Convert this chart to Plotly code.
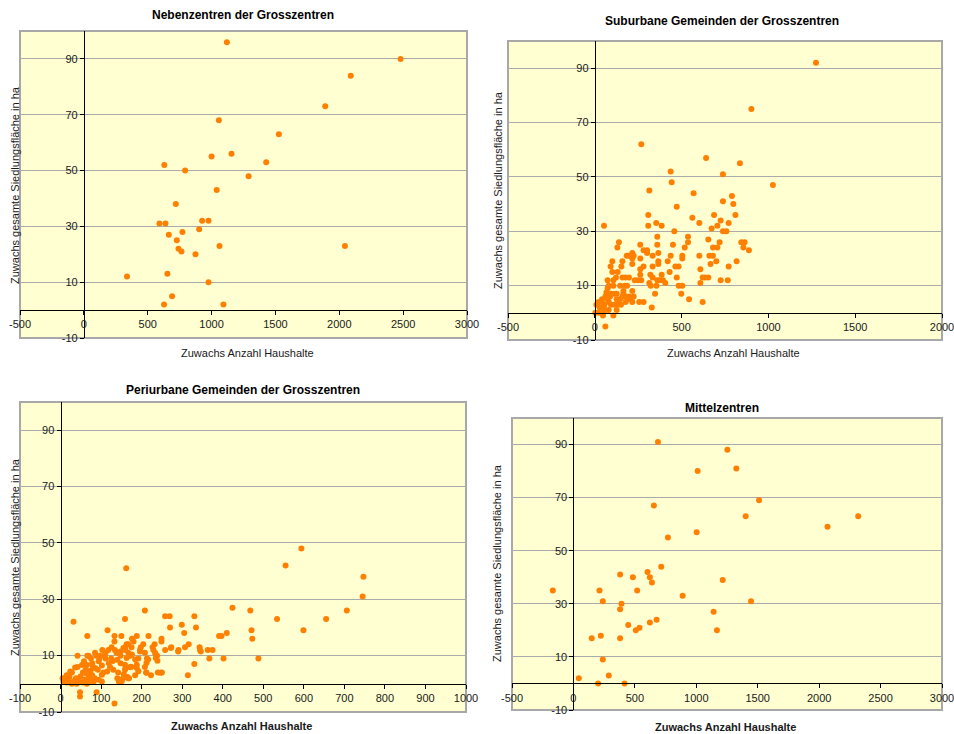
import plotly.graph_objects as go

# ---------------------------------------------------------------------------
# Zuwachs Anzahl Haushalte (x) und Zuwachs gesamte Siedlungsfläche in ha (y)
# ---------------------------------------------------------------------------

# Nebenzentren der Grosszentren
neben_hh = [1120, 2480, 2090, 1890, 1057, 1527, 1156, 1000, 1428, 630, 793, 1290,
            1040, 720, 926, 976, 592, 639, 903, 772, 665, 728, 1062, 2044, 741,
            764, 874, 338, 654, 976, 691, 628, 1093]
neben_ha = [96, 90, 84, 73, 68, 63, 56, 55, 53, 52, 50, 48,
            43, 38, 32, 32, 31, 31, 29, 28, 27, 25, 23, 23, 22,
            21, 20, 12, 13, 10, 5, 2, 2]

# Suburbane Gemeinden der Grosszentren
sub_hh = [1274, 902, 268, 641, 836, 437, 738, 1026, 443, 314, 569, 790, 738, 798,
          472, 308, 687, 810, 562, 725, 354, 602, 771, 53, 308, 385, 706, 673,
          458, 738, 758, 360, 537, 654, 139, 537, 719, 844, 863, 262, 360, 450,
          130, 518, 681, 706, 856, 888, 281, 301, 216, 301, 366, 184, 197, 224,
          333, 437, 504, 602, 660, 680, 262, 504, 216, 700, 817, 366, 420, 101,
          159, 216, 366, 667, 153, 281, 333, 464, 483, 771, 91, 262, 608, 101,
          132, 431, 262, 385, 320, 333, 472, 621, 635, 654, 122, 159, 178, 197,
          74, 107, 230, 249, 268, 360, 374, 393, 725, 766, 406, 608, 314, 80,
          107, 146, 173, 186, 322, 355, 483, 504, 74, 165, 216, 347, 498, 67,
          93, 113, 126, 165, 61, 88, 159, 178, 197, 224, 42, 74, 126, 146, 192,
          211, 42, 80, 178, 216, 256, 281, 543, 621, 328, 22, 9, 55, 93, 113,
          132, 151, 28, 47, 61, 80, 126, 3, 22, 47, 107, 61, 47]
sub_ha = [92, 75, 62, 57, 55, 52, 51, 47, 48, 45, 44, 43, 41, 40,
          39, 36, 36, 36, 35, 34, 33, 33, 33, 32, 32, 32, 32, 31,
          30, 30, 30, 28, 28, 27, 26, 26, 26, 26, 26, 25, 25, 25,
          24, 24, 24, 24, 24, 23, 23, 23, 22, 22, 22, 21, 21, 21,
          21, 21, 21, 21, 21, 21, 20, 20, 20, 19, 19, 19, 19, 19,
          19, 18, 18, 18, 17, 17, 17, 17, 17, 17, 17, 16, 16, 15,
          15, 15, 14, 14, 14, 13, 13, 13, 13, 13, 13, 13, 13, 13,
          12, 12, 12, 12, 12, 12, 12, 12, 12, 12, 11, 11, 11, 10,
          10, 10, 10, 10, 10, 10, 10, 10, 9, 8, 8, 7, 7, 7.5,
          7, 7, 7, 7, 6, 6, 6, 6, 6, 6, 5, 5, 5, 5, 5,
          5, 4, 4, 4, 4, 4, 4, 5, 4, 2, 4, 3, 3, 3, 3,
          3, 3, 2, 2, 1, 1, 1, 0, 0, 0, -1, -5, -1]

# Periurbane Gemeinden der Grosszentren
peri_hh = [594, 555, 162, 747, 745, 424, 468, 706, 208, 258, 269, 330, 159, 534,
           655, 32, 299, 270, 334, 116, 471, 599, 305, 410, 66, 133, 150, 188,
           217, 391, 397, 473, 176, 249, 133, 180, 249, 316, 167, 204, 232, 343,
           273, 307, 126, 159, 198, 227, 344, 363, 375, 291, 258, 196, 229, 103,
           118, 208, 233, 85, 42, 66, 97, 148, 172, 238, 367, 402, 488, 192,
           213, 330, 208, 174, 314, 223, 184, 211, 240, 250, 167, 144, 133, 89,
           48, 48,
           163, 155, 148, 167, 176, 196, 235, 272, 290, 346, 163, 184, 216, 212,
           235, 239, 159, 159, 188, 172, 188, 192, 212, 247, 165, 155, 151,
           69, 88, 111, 134, 160, 175, 111, 94, 78, 65, 53, 36, 24, 12, 7, 20,
           32, 45, 49, 61, 74, 86, 102, 119, 129, 140, 148, 160, 156, 140, 144,
           115, 102, 94, 69, 82, 102, 173, 169,
           5, 15, 28, 38, 42, 55, 58, 62, 70, 75, 80, 84, 92, 96, 106, 108,
           122, 125, 130, 138, 142, 15, 28, 35, 40, 22, 55, 60, 65, 72, 78, 10]
peri_ha = [48, 42, 41, 38, 31, 27, 26, 26, 26, 24, 24, 24, 23, 23,
           23, 22, 21, 20, 20, 19, 19, 19, 18, 18, 17, 17, 17, 17,
           17, 17, 17, 16, 16, 16, 15, 15, 15, 14, 14, 14, 14, 13,
           13, 13, 13, 13, 13, 13, 12, 12, 12, 12, 12, 12, 12, 12,
           12, 11, 11, 11, 10, 10, 10, 10, 10, 10, 9, 9, 9, 9,
           9, 7, 6, 6, 3, 3, 3, 4, 4, 4, 2, 1.5, -7, -3,
           -3, -4.5,
           14, 12.7, 11.5, 11, 10.4, 11.5, 10.4, 12.7, 11.5, 11.5, 9.2, 8.6, 8.6, 7.4,
           9.2, 8.2, 6.8, 5, 6.8, 5.9, 5.6, 4.5, 3.9, 3.9, 2.4, 2.1, 0.9,
           10, 10, 11, 12, 12, 13, 9, 8, 7.3, 6.7, 6.7, 5.8, 4.4, 2, 0.8, 1,
           0.8, 1, 2.6, 3.8, 4.6, 5.5, 6.5, 7.3, 8.1, 8.5, 7.3, 5.5, 3.4, 2, 0.8,
           4.4, 3.2, 1.4, 2, 0.8, 0.8, 6.1, 2,
           2, 3, 4, 2, 6, 4, 8, 5, 3, 9, 6, 2, 5, 9, 4, 10,
           6, 9, 5, 11, 4, 0.5, 0, 1, 0, 2.5, 0.5, 1.5, 0, 1, 3, 1.5]

# Mittelzentren
mittel_hh = [688, 1253, 1326, 1011, 1511, 655, 1402, 2318, 2068, 1003, 769, 715,
             603, 380, 484, 622, 639, 1215, -168, 212, 519, 239, 1446, 889, 391,
             380, 1141, 677, 622, 446, 538, 508, 1168, 223, 149, 380, 239, 288,
             44, 201, 416]
mittel_ha = [91, 88, 81, 80, 69, 67, 63, 63, 59, 57, 55, 44,
             42, 41, 40, 40, 38, 39, 35, 35, 35, 31, 31, 33, 30,
             28, 27, 24, 23, 22, 21, 20, 20, 18, 17, 17, 9, 3,
             2, 0, 0]

# Panel titles, axis ranges and tick spacing
titles = ["Nebenzentren der Grosszentren", "Suburbane Gemeinden der Grosszentren",
          "Periurbane Gemeinden der Grosszentren", "Mittelzentren"]
x_ranges = [(-500, 3000), (-500, 2000), (-100, 1000), (-500, 3000)]
x_dticks = [500, 500, 100, 500]
y_range = (-10, 100)
y_ticks = [-10, 10, 30, 50, 70, 90]

series = [(neben_hh, neben_ha), (sub_hh, sub_ha), (peri_hh, peri_ha),
          (mittel_hh, mittel_ha)]

W, H = 954, 734
FONT = "Liberation Sans Narrow, Arial Narrow, Liberation Sans, Arial, sans-serif"
ORANGE = "#FF8000"
BG = "#FFFFD2"
GRID = "#ABABAB"
BORDER = "#A8A8A8"


def fx(px):
    return px / W


def fy(py):
    return 1 - py / H


# plot-area rectangles in pixels: left, top, right, bottom
areas = [(20, 31, 467, 338), (508, 41, 942, 340),
         (20, 402, 466, 712), (512, 418, 942, 710)]
# title / axis-title anchor points in pixels
title_pos = [(243, 15), (722, 21), (243, 390), (722, 408)]
xtitle_pos = [(247, 353), (733, 353), (242, 726), (725, 727)]
ytitle_pos = [(15, 185), (498, 190), (15, 557), (497, 563)]
xtitle_bold = [False, False, True, True]

fig = go.Figure()
layout = dict(
    width=W, height=H,
    margin=dict(l=0, r=0, t=0, b=0),
    paper_bgcolor="white",
    plot_bgcolor=BG,
    showlegend=False,
    font=dict(family=FONT, size=11, color="#1a1a1a"),
    shapes=[], annotations=[],
)

for i, ((hh, ha), (l, t, r, b)) in enumerate(zip(series, areas)):
    n = "" if i == 0 else str(i + 1)
    xa, ya = "x" + n, "y" + n
    fig.add_trace(go.Scatter(
        x=hh, y=ha, mode="markers", xaxis=xa, yaxis=ya,
        marker=dict(color=ORANGE, size=6, line=dict(width=0)),
        hoverinfo="x+y",
    ))
    xdom = [fx(l), fx(r)]
    ydom = [fy(b), fy(t)]
    xmin, xmax = x_ranges[i]
    ymin, ymax = y_range
    xticks = list(range(xmin, xmax + 1, x_dticks[i]))
    # axes cross at zero, as in a spreadsheet chart
    ypos = xdom[0] + (0 - xmin) / (xmax - xmin) * (xdom[1] - xdom[0])
    xpos = ydom[0] + (0 - ymin) / (ymax - ymin) * (ydom[1] - ydom[0])
    layout["xaxis" + n] = dict(
        domain=xdom, range=[xmin, xmax], anchor="free", position=xpos,
        tickmode="array", tickvals=xticks, ticktext=[str(v) for v in xticks],
        showgrid=False, zeroline=False,
        showline=True, linecolor="black", linewidth=1,
        ticks="outside", ticklen=4, tickcolor="black",
        tickfont=dict(size=11, family=FONT, color="#1a1a1a"),
        ticklabeloverflow="allow",
        automargin=False, fixedrange=True,
    )
    layout["yaxis" + n] = dict(
        domain=ydom, range=[ymin, ymax], anchor="free", position=ypos,
        tickmode="array", tickvals=y_ticks, ticktext=[str(v) for v in y_ticks],
        showgrid=True, gridcolor=GRID, gridwidth=1,
        zeroline=False, showline=True, linecolor="black", linewidth=1,
        ticks="outside", ticklen=4, tickcolor="black",
        tickfont=dict(size=11, family=FONT, color="#1a1a1a"),
        ticklabeloverflow="allow",
        automargin=False, fixedrange=True,
    )
    # plot-area frame
    layout["shapes"].append(dict(
        type="rect", xref=xa + " domain", yref=ya + " domain",
        x0=0, x1=1, y0=0, y1=1, line=dict(color=BORDER, width=2),
        fillcolor="rgba(0,0,0,0)", layer="below",
    ))
    tx, ty = title_pos[i]
    layout["annotations"].append(dict(
        text="<b>" + titles[i] + "</b>", x=fx(tx), y=fy(ty), xref="paper",
        yref="paper", showarrow=False, xanchor="center", yanchor="middle",
        font=dict(size=12, family=FONT, color="black"),
    ))
    xx, xy = xtitle_pos[i]
    label = "Zuwachs Anzahl Haushalte"
    layout["annotations"].append(dict(
        text=("<b>" + label + "</b>") if xtitle_bold[i] else label,
        x=fx(xx), y=fy(xy), xref="paper", yref="paper", showarrow=False,
        xanchor="center", yanchor="middle",
        font=dict(size=11, family=FONT, color="#1a1a1a"),
    ))
    yx, yy = ytitle_pos[i]
    layout["annotations"].append(dict(
        text="Zuwachs gesamte Siedlungsfläche in ha", textangle=-90,
        x=fx(yx), y=fy(yy), xref="paper", yref="paper", showarrow=False,
        xanchor="center", yanchor="middle",
        font=dict(size=11, family=FONT, color="#1a1a1a"),
    ))

fig.update_layout(**layout)
fig.write_html("out.html")
